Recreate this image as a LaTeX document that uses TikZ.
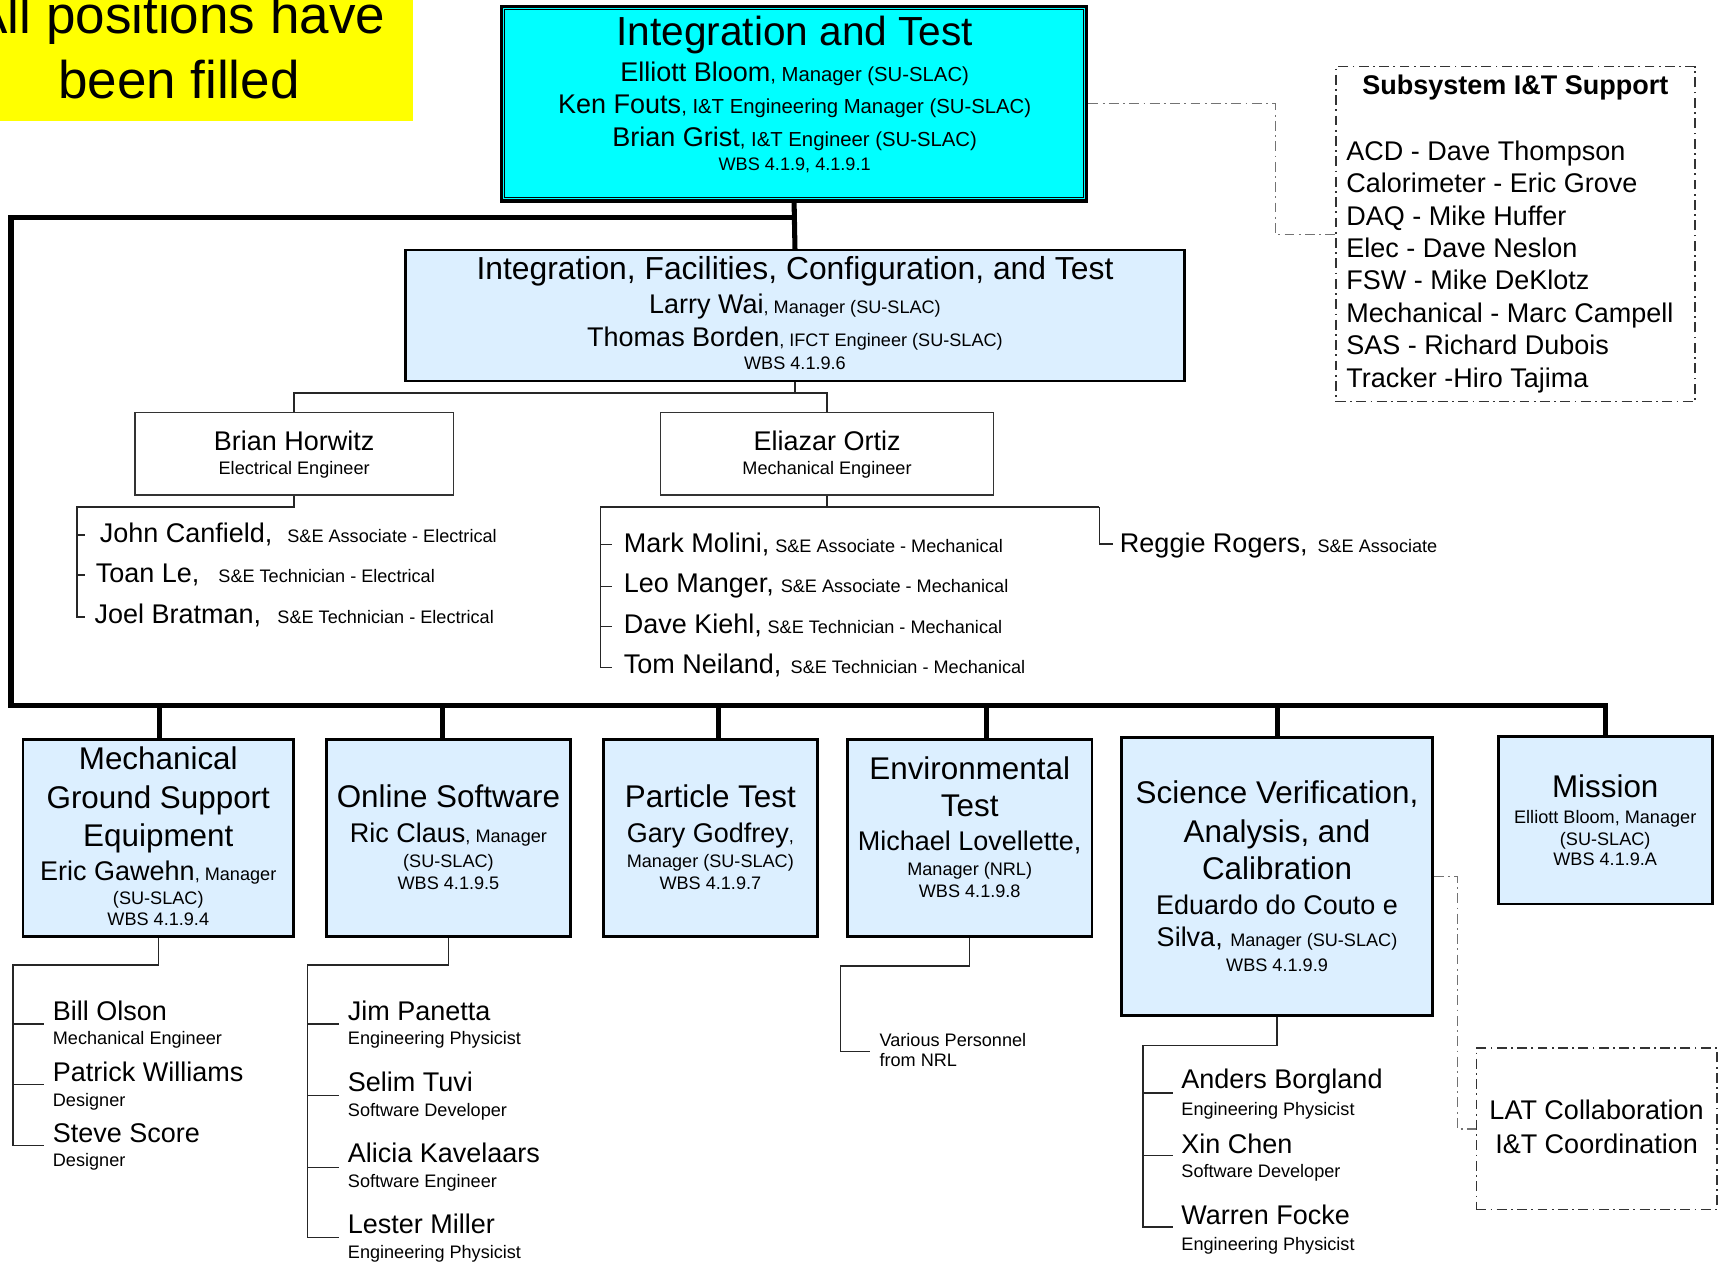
\documentclass[tikz,border=0pt]{standalone}
\usepackage{fontspec}
\setmainfont{Liberation Sans}
\usetikzlibrary{calc}
\newcommand\fBig{\fontsize{18.5pt}{20pt}\selectfont}
\newcommand\fSec{\fontsize{14.3pt}{16pt}\selectfont}
\newcommand\fIF{\fontsize{14.5pt}{16pt}\selectfont}
\newcommand\fName{\fontsize{12.3pt}{14pt}\selectfont}
\newcommand\fSmall{\fontsize{8.25pt}{10pt}\selectfont}
\newcommand\fTS{\fontsize{9.25pt}{11pt}\selectfont}
\newcommand\fYel{\fontsize{24.15pt}{26pt}\selectfont}
\definecolor{lblue}{RGB}{220,239,255}
\definecolor{cyanbox}{RGB}{0,255,255}
\definecolor{yel}{RGB}{255,255,0}
\begin{document}
\begin{tikzpicture}[x=0.5pt,y=-0.5pt,
  tx/.style={inner sep=0pt, anchor=base},
  tl/.style={inner sep=0pt, anchor=base west},
  bbox/.style={draw=black, fill=lblue, line width=1.2pt, inner sep=0pt},
  wbox/.style={draw=black!80, fill=white, line width=0.6pt, inner sep=0pt},
  bus/.style={line width=2.3pt, line join=miter},
  conn/.style={line width=0.65pt, draw=black!85},
  dd/.style={line width=0.6pt, draw=black!55, dash pattern=on 4.5pt off 2pt on 0.8pt off 2pt},
  ddbox/.style={line width=0.65pt, draw=black!80, dash pattern=on 4.5pt off 2pt on 0.8pt off 2pt}]
\useasboundingbox (0,0) rectangle (1568,1152);
\clip (0,0) rectangle (1568,1152);
\fill[white] (0,0) rectangle (1568,1152);

% ---------- boxes ----------
\node[fill=yel, inner sep=0pt, minimum width=188pt, minimum height=55pt] (yelbox) at (188,55) {};
\node[draw=black, fill=cyanbox, line width=1.7pt, inner sep=0pt, minimum width=266.5pt, minimum height=88.5pt] (itbox) at (723.5,94.5) {};
\draw[line width=0.5pt] ([shift={(4.5,4.5)}]itbox.north west) rectangle ([shift={(-4.5,-4.5)}]itbox.south east);
\node[ddbox, fill=white, inner sep=0pt, minimum width=163.65pt, minimum height=152.65pt] (subsys) at (1380.7,213.4) {};
\node[bbox, line width=1.1pt, minimum width=354.75pt, minimum height=59.5pt] (ifct) at (724.3,287.5) {};
\node[wbox, minimum width=145pt, minimum height=37.5pt] (horwitz) at (268,413.5) {};
\node[wbox, minimum width=151.5pt, minimum height=37.5pt] (ortiz) at (753.5,413.5) {};
\node[bbox, minimum width=123.2pt, minimum height=89.5pt] (mgse) at (144.2,763.5) {};
\node[bbox, minimum width=111.2pt, minimum height=89.5pt] (online) at (408.6,763.5) {};
\node[bbox, minimum width=97.45pt, minimum height=89.5pt] (particle) at (647.2,763.5) {};
\node[bbox, minimum width=111.5pt, minimum height=89.5pt] (env) at (883.5,763.5) {};
\node[bbox, minimum width=141.5pt, minimum height=126.5pt] (sciver) at (1163.5,798.5) {};
\node[bbox, minimum width=97.5pt, minimum height=76.3pt] (mission) at (1462.5,747.3) {};
\node[ddbox, fill=white, inner sep=0pt, minimum width=109.65pt, minimum height=73.5pt] (lat) at (1454.7,1028.5) {};

% ---------- thick bus ----------
\coordinate (j0) at (724,198);
\coordinate (c1) at (10,198);
\coordinate (c2) at (10,643);
\coordinate (c3) at (1462.5,643);
\coordinate (d1) at (145,643);
\coordinate (d2) at (403.5,643);
\coordinate (d3) at (654.7,643);
\coordinate (d4) at (899,643);
\coordinate (d5) at (1163.5,643);
\draw[bus] (itbox.south) -- (ifct.north);
\draw[bus] (j0) -- (c1) -- (c2) -- (c3) -- (mission.north);
\draw[bus] (d1) -- (d1 |- mgse.north);
\draw[bus] (d2) -- (d2 |- online.north);
\draw[bus] (d3) -- (d3 |- particle.north);
\draw[bus] (d4) -- (d4 |- env.north);
\draw[bus] (d5) -- (sciver.north);

% ---------- dash-dot links ----------
\coordinate (s1) at (1162,213.4);
\draw[dd] (itbox.east) -| (s1) -- (subsys.west);
\coordinate (l1) at (1328,798.5);
\draw[dd] (sciver.east) -- (l1) |- (lat.west);

% ---------- thin connectors ----------
\coordinate (ij) at (724.3,358);
\draw[conn] (ifct.south) -- (ij);
\draw[conn] (horwitz.north) |- (ij) -| (ortiz.north);

\coordinate (h0) at (70,462);
\draw[conn] (horwitz.south) |- (h0) -- (70,562) -- (77,562);
\draw[conn] (70,487.4) -- (77,487.4);
\draw[conn] (70,524) -- (77,524);

\coordinate (o0) at (547,462);
\coordinate (o1) at (1001.7,462);
\draw[conn] (ortiz.south) -- (ortiz.south |- o0);
\draw[conn] (o0) -- (o1);
\draw[conn] (o0) -- (547,608.3) -- (557.7,608.3);
\draw[conn] (547,496) -- (557.7,496);
\draw[conn] (547,534.5) -- (557.7,534.5);
\draw[conn] (547,571) -- (557.7,571);
\draw[conn] (o1) -- (1001.7,495.6) -- (1014,495.6);

\coordinate (m0) at (12,879);
\draw[conn] (mgse.south) |- (m0) -- (12,1043.8) -- (40,1043.8);
\draw[conn] (12,933) -- (40,933);
\draw[conn] (12,988) -- (40,988);

\coordinate (n0) at (280,879);
\draw[conn] (online.south) |- (n0) -- (280,1127.6) -- (308.5,1127.6);
\draw[conn] (280,933) -- (308.5,933);
\draw[conn] (280,998) -- (308.5,998);
\draw[conn] (280,1063.5) -- (308.5,1063.5);

\coordinate (e0) at (766,880);
\draw[conn] (env.south) |- (e0) -- (766,958) -- (793,958);

\coordinate (v0) at (1041.2,952.4);
\draw[conn] (sciver.south) |- (v0) -- (1041.2,1118) -- (1069,1118);
\draw[conn] (1041.2,996) -- (1069,996);
\draw[conn] (1041.2,1053) -- (1069,1053);

% ---------- texts ----------
\node[tx] (y1) at (163,30.4) {\fYel All positions have};
\node[tx] (y2) at (163,89.6) {\fYel been filled};

\node[tx] (it1) at (724,41.6) {\fBig Integration and Test};
\node[tx] (it2) at (724,74.4) {\fName Elliott Bloom\fTS, Manager (SU-SLAC)};
\node[tx] (it3) at (724,103) {\fName Ken Fouts\fTS, I\&T Engineering Manager (SU-SLAC)};
\node[tx] (it4) at (724,133.6) {\fName Brian Grist\fTS, I\&T Engineer (SU-SLAC)};
\node[tx] (it5) at (724,155) {\fSmall WBS 4.1.9, 4.1.9.1};

\node[tx] (ss0) at (1380.7,86) {\fName\bfseries Subsystem I\&T Support};
\node[tl] (ss1) at (1226.3,145.8) {\fName ACD - Dave Thompson};
\node[tl] (ss2) at (1226.3,175.4) {\fName Calorimeter - Eric Grove};
\node[tl] (ss3) at (1226.3,205) {\fName DAQ - Mike Huffer};
\node[tl] (ss4) at (1226.3,234.6) {\fName Elec - Dave Neslon};
\node[tl] (ss5) at (1226.3,264.2) {\fName FSW - Mike DeKlotz};
\node[tl] (ss6) at (1226.3,293.8) {\fName Mechanical - Marc Campell};
\node[tl] (ss7) at (1226.3,323.4) {\fName SAS - Richard Dubois};
\node[tl] (ss8) at (1226.3,353) {\fName Tracker -Hiro Tajima};

\node[tx] (if1) at (724.3,255) {\fIF Integration, Facilities, Configuration, and Test};
\node[tx] (if2) at (724.3,286) {\fName Larry Wai\fSmall, Manager (SU-SLAC)};
\node[tx] (if3) at (724.3,316) {\fName Thomas Borden\fSmall, IFCT Engineer (SU-SLAC)};
\node[tx] (if4) at (724.3,337) {\fSmall WBS 4.1.9.6};

\node[tx] (hw1) at (268,410) {\fName Brian Horwitz};
\node[tx] (hw2) at (268,432) {\fSmall Electrical Engineer};
\node[tx] (oz1) at (753.5,410) {\fName Eliazar Ortiz};
\node[tx] (oz2) at (753.5,432) {\fSmall Mechanical Engineer};

\node[tl] (hn1) at (90.6,494) {\fName John Canfield,};
\node[tl] (hr1) at (261.4,494) {\fSmall S\&E Associate - Electrical};
\node[tl] (hn2) at (87,531) {\fName Toan Le,};
\node[tl] (hr2) at (198.6,531) {\fSmall S\&E Technician - Electrical};
\node[tl] (hn3) at (85.7,568) {\fName Joel Bratman,};
\node[tl] (hr3) at (252.4,568) {\fSmall S\&E Technician - Electrical};

\node[tl] (on1) at (568,503) {\fName Mark Molini,};
\node[tl] (or1) at (706,503) {\fSmall S\&E Associate - Mechanical};
\node[tl] (on2) at (568,540) {\fName Leo Manger,};
\node[tl] (or2) at (711,540) {\fSmall S\&E Associate - Mechanical};
\node[tl] (on3) at (568,577) {\fName Dave Kiehl,};
\node[tl] (or3) at (699,577) {\fSmall S\&E Technician - Mechanical};
\node[tl] (on4) at (568,614) {\fName Tom Neiland,};
\node[tl] (or4) at (720,614) {\fSmall S\&E Technician - Mechanical};
\node[tl] (rn1) at (1020,503) {\fName Reggie Rogers,};
\node[tl] (rr1) at (1200,503) {\fSmall S\&E Associate};

\node[tx] (mg1) at (144.2,701.5) {\fSec Mechanical};
\node[tx] (mg2) at (144.2,736.5) {\fSec Ground Support};
\node[tx] (mg3) at (144.2,771.5) {\fSec Equipment};
\node[tx] (mg4) at (144.2,802) {\fName Eric Gawehn\fSmall, Manager};
\node[tx] (mg5) at (144.2,824) {\fSmall (SU-SLAC)};
\node[tx] (mg6) at (144.2,843) {\fSmall WBS 4.1.9.4};

\node[tx] (os1) at (408.6,736) {\fSec Online Software};
\node[tx] (os2) at (408.6,767.4) {\fName Ric Claus\fSmall, Manager};
\node[tx] (os3) at (408.6,790) {\fSmall (SU-SLAC)};
\node[tx] (os4) at (408.6,810) {\fSmall WBS 4.1.9.5};

\node[tx] (pt1) at (647.2,736) {\fSec Particle Test};
\node[tx] (pt2) at (647.2,767.4) {\fName Gary Godfrey\fSmall,};
\node[tx] (pt3) at (647.2,790) {\fSmall Manager (SU-SLAC)};
\node[tx] (pt4) at (647.2,810) {\fSmall WBS 4.1.9.7};

\node[tx] (et1) at (883.5,710) {\fSec Environmental};
\node[tx] (et2) at (883.5,744) {\fSec Test};
\node[tx] (et3) at (883.5,775) {\fName Michael Lovellette,};
\node[tx] (et4) at (883.5,798) {\fSmall Manager (NRL)};
\node[tx] (et5) at (883.5,817.5) {\fSmall WBS 4.1.9.8};

\node[tx] (sv1) at (1163.5,732.5) {\fSec Science Verification,};
\node[tx] (sv2) at (1163.5,767.3) {\fSec Analysis, and};
\node[tx] (sv3) at (1163.5,801.5) {\fSec Calibration};
\node[tx] (sv4) at (1163.5,833) {\fName Eduardo do Couto e};
\node[tx] (sv5) at (1163.5,862.2) {\fName Silva, \fSmall Manager (SU-SLAC)};
\node[tx] (sv6) at (1163.5,885.3) {\fSmall WBS 4.1.9.9};

\node[tx] (ms1) at (1462.5,727) {\fSec Mission};
\node[tx] (ms2) at (1462.5,750.3) {\fSmall Elliott Bloom, Manager};
\node[tx] (ms3) at (1462.5,770) {\fSmall (SU-SLAC)};
\node[tx] (ms4) at (1462.5,788.8) {\fSmall WBS 4.1.9.A};

\node[tl] (mp1) at (47.8,930) {\fName Bill Olson};
\node[tl] (mr1) at (47.8,952) {\fSmall Mechanical Engineer};
\node[tl] (mp2) at (47.8,985.5) {\fName Patrick Williams};
\node[tl] (mr2) at (47.8,1008) {\fSmall Designer};
\node[tl] (mp3) at (47.8,1041) {\fName Steve Score};
\node[tl] (mr3) at (47.8,1063) {\fSmall Designer};

\node[tl] (np1) at (316.6,930) {\fName Jim Panetta};
\node[tl] (nr1) at (316.6,952) {\fSmall Engineering Physicist};
\node[tl] (np2) at (316.6,994.6) {\fName Selim Tuvi};
\node[tl] (nr2) at (316.6,1017) {\fSmall Software Developer};
\node[tl] (np3) at (316.6,1059) {\fName Alicia Kavelaars};
\node[tl] (nr3) at (316.6,1082) {\fSmall Software Engineer};
\node[tl] (np4) at (316.6,1124) {\fName Lester Miller};
\node[tl] (nr4) at (316.6,1147) {\fSmall Engineering Physicist};

\node[tl] (ev1) at (801,953) {\fSmall Various Personnel};
\node[tl] (ev2) at (801,972) {\fSmall from NRL};

\node[tl] (vp1) at (1076,992) {\fName Anders Borgland};
\node[tl] (vr1) at (1076,1016) {\fSmall Engineering Physicist};
\node[tl] (vp2) at (1076,1051) {\fName Xin Chen};
\node[tl] (vr2) at (1076,1073) {\fSmall Software Developer};
\node[tl] (vp3) at (1076,1116) {\fName Warren Focke};
\node[tl] (vr3) at (1076,1139.5) {\fSmall Engineering Physicist};

\node[tx] (lt1) at (1454.6,1020) {\fName LAT Collaboration};
\node[tx] (lt2) at (1454.6,1051) {\fName I\&T Coordination};
\end{tikzpicture}
\end{document}
